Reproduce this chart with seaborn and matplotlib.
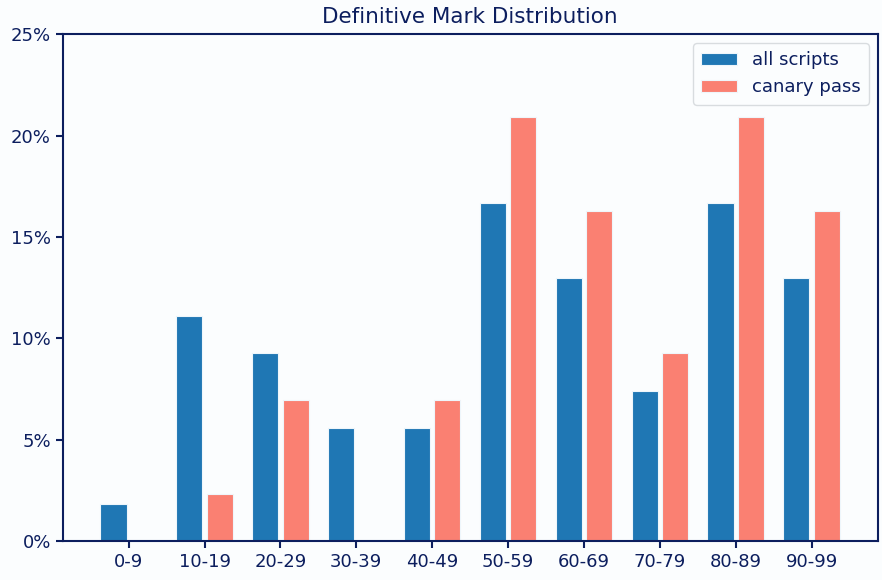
import numpy as np
import pandas as pd
import matplotlib
matplotlib.use("Agg")
import matplotlib.pyplot as plt
import seaborn as sns
from matplotlib.ticker import PercentFormatter

# mark bands and share of scripts in each band (percent)
bands = ["0-9", "10-19", "20-29", "30-39", "40-49",
         "50-59", "60-69", "70-79", "80-89", "90-99"]
all_scripts = [1.85, 11.11, 9.26, 5.56, 5.56, 16.67, 12.96, 7.41, 16.67, 12.96]
canary_pass = [0.0, 2.33, 6.98, 0.0, 6.98, 20.93, 16.28, 9.30, 20.93, 16.28]

df = pd.DataFrame({
    "band": bands * 2,
    "pct": all_scripts + canary_pass,
    "group": ["all scripts"] * len(bands) + ["canary pass"] * len(bands),
})

navy = "#0c1e5e"
bg = "#fbfdfe"

sns.set_style("white")
plt.rcParams["font.family"] = ["DejaVu Sans"]

fig, ax = plt.subplots(figsize=(8.82, 5.8), dpi=100)
fig.patch.set_facecolor(bg)
ax.set_facecolor(bg)

sns.barplot(data=df, x="band", y="pct", hue="group", ax=ax,
            palette=["#1f77b4", "#fa8072"], saturation=1,
            width=0.8, gap=0.14, edgecolor="#eef6fb", linewidth=0.8)

ax.set_xlim(-0.87, 9.87)
ax.set_ylim(0, 25)
ax.set_yticks([0, 5, 10, 15, 20, 25])
ax.yaxis.set_major_formatter(PercentFormatter(decimals=0))
ax.set_xlabel("")
ax.set_ylabel("")
ax.set_title("Definitive Mark Distribution", fontsize=15.5, color=navy, pad=8)

for s in ax.spines.values():
    s.set_color(navy)
    s.set_linewidth(1.5)
ax.tick_params(colors=navy, labelsize=13, length=5, width=1.5,
               bottom=True, left=True, direction="out")

leg = ax.legend(loc="upper right", fontsize=13, frameon=True, fancybox=True,
                handlelength=2.0, borderpad=0.45)
leg.get_frame().set_edgecolor("#d0d4d8")
leg.get_frame().set_facecolor(bg)
for t in leg.get_texts():
    t.set_color(navy)

fig.subplots_adjust(left=0.071, right=0.995, top=0.941, bottom=0.067)
fig.savefig("out.png", dpi=100, facecolor=bg)
